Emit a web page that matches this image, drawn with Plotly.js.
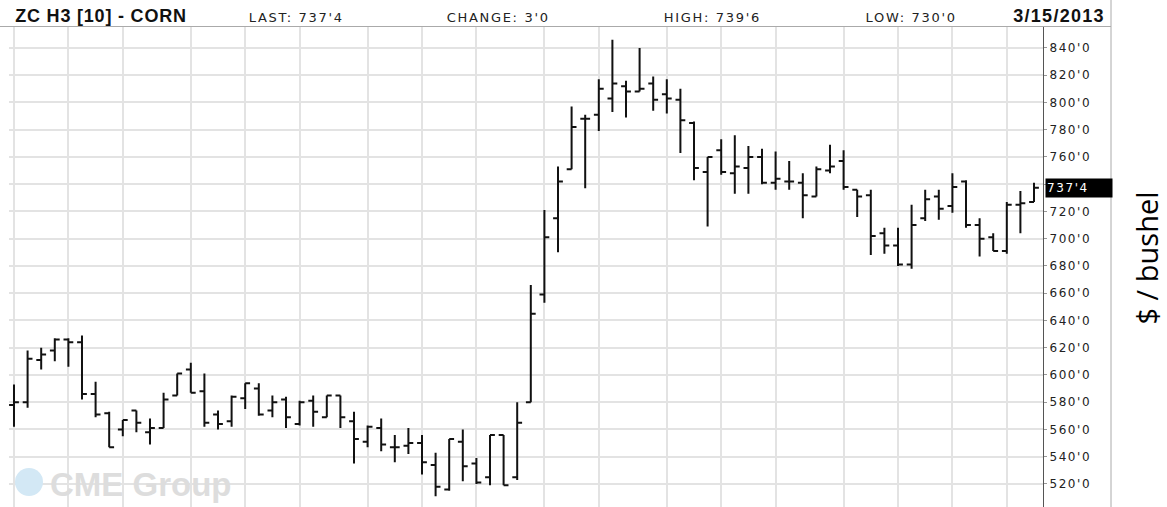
<!DOCTYPE html>
<html><head><meta charset="utf-8">
<script src="https://cdn.plot.ly/plotly-3.0.1.min.js"></script>
<style>
html,body{margin:0;padding:0;background:#fff;overflow:hidden}
#chart{width:1167px;height:507px}
.ytick text{letter-spacing:1.6px}
g.annotation[data-index="0"] text{letter-spacing:0.8px}
g.annotation[data-index="1"] text,g.annotation[data-index="2"] text,g.annotation[data-index="3"] text,g.annotation[data-index="4"] text{letter-spacing:1.7px}
g.annotation[data-index="5"] text{letter-spacing:1.3px}
g.annotation[data-index="6"] text{letter-spacing:1.6px}
</style>
</head><body><div id="chart"></div>
<script>
// Weekly bars (Monday of each week), ZC H3 corn futures
const weeks = [
"2011-10-03","2011-10-10","2011-10-17","2011-10-24","2011-10-31","2011-11-07","2011-11-14","2011-11-21","2011-11-28","2011-12-05",
"2011-12-12","2011-12-19","2011-12-26","2012-01-02","2012-01-09","2012-01-16","2012-01-23","2012-01-30","2012-02-06","2012-02-13",
"2012-02-20","2012-02-27","2012-03-05","2012-03-12","2012-03-19","2012-03-26","2012-04-02","2012-04-09","2012-04-16","2012-04-23",
"2012-04-30","2012-05-07","2012-05-14","2012-05-21","2012-05-28","2012-06-04","2012-06-11","2012-06-18","2012-06-25","2012-07-02",
"2012-07-09","2012-07-16","2012-07-23","2012-07-30","2012-08-06","2012-08-13","2012-08-20","2012-08-27","2012-09-03","2012-09-10",
"2012-09-17","2012-09-24","2012-10-01","2012-10-08","2012-10-15","2012-10-22","2012-10-29","2012-11-05","2012-11-12","2012-11-19",
"2012-11-26","2012-12-03","2012-12-10","2012-12-17","2012-12-24","2012-12-31","2013-01-07","2013-01-14","2013-01-21","2013-01-28",
"2013-02-04","2013-02-11","2013-02-18","2013-02-25","2013-03-04","2013-03-11"];
const openPx = [578,580,611,618,626,624,586,572,560,574, 558,561,585,604,588,571,566,583,590,574,
  582,564,581,569,585,566,551,561,547,548, 550,534,516,551,535,525,556,525,580,659,
  715,751,788,791,803,812,808,814,806,802, 785,749,765,748,752,760,741,742,741,731,
  750,757,736,732,704,695,681,715,731,724, 742,710,701,691,725,727];
const highPx = [593,618,620,627,627,629,595,573,567,574, 568,587,601,609,601,574,585,594,594,585,
  584,581,585,585,585,573,563,568,556,561, 556,543,553,560,539,556,556,580,666,721,
  753,797,791,817,846,816,840,819,817,810, 786,760,773,776,768,766,764,757,748,753,
  769,765,736,736,708,708,725,736,736,748, 743,715,704,727,735,741];
const lowPx = [562,576,604,610,606,582,569,547,555,558, 549,561,585,587,562,560,562,575,570,569,
  561,563,562,569,561,535,547,544,536,542, 527,511,515,522,520,519,519,523,580,653,
  690,751,737,779,793,789,808,794,792,763, 743,709,747,733,733,740,736,736,715,731,
  748,736,716,688,689,680,678,713,714,719, 708,687,691,689,704,727];
const closePx = [580,612,615,626,624,586,571,547,567,565, 561,582,601,587,565,564,584,594,571,580,
  569,580,573,585,569,553,562,549,547,550, 536,518,553,533,521,556,519,565,645,701,
  742,782,788,810,814,808,810,802,803,787, 752,760,749,753,760,741,744,742,732,751,
  753,738,731,702,695,681,710,729,722,738, 710,700,691,725,726,737.5];
// Weeks holding the first trading day of each month (vertical grid)
const monthStartWeeks = ["2011-10-03","2011-10-31","2011-11-28","2012-01-02","2012-01-30","2012-02-27","2012-04-02","2012-04-30",
  "2012-05-28","2012-07-02","2012-07-30","2012-09-03","2012-10-01","2012-10-29","2012-12-03","2012-12-31","2013-01-28","2013-02-25"];
const priceTicks = [520,540,560,580,600,620,640,660,680,700,720,740,760,780,800,820,840];
// 740 is covered by the last-price marker in the original, so its label is blank
const priceTickText = ["520'0","540'0","560'0","580'0","600'0","620'0","640'0","660'0","680'0","700'0","720'0","","760'0","780'0","800'0","820'0","840'0"];
const titleText = "ZC H3 [10] - CORN";
const lastText = "LAST: 737'4";
const changeText = "CHANGE: 3'0";
const highText = "HIGH: 739'6";
const lowText = "LOW: 730'0";
const dateText = "3/15/2013";
const lastLabel = "737'4";
const lastValue = 737.5;
const unitText = "$ / bushel";
const watermarkText = "CME Group";

// geometry helpers (pixel -> paper)
const W = 1167, H = 507, ML = 9, MR = 124, MT = 27, MB = 0;
const PW = W - ML - MR, PH = H - MT - MB;
const px = x => (x - ML) / PW;
const py = y => (H - MB - y) / PH;

const DAY = 86400000;
const fmt = ms => new Date(ms).toISOString().replace('T', ' ').replace('Z', '');
const t0 = Date.parse(weeks[0]), t1 = Date.parse(weeks[weeks.length - 1]);
const xRange = [fmt(t0 - 2.57 * DAY), fmt(t1 + 4.63 * DAY)];

const trace = {
  type: 'ohlc', x: weeks, open: openPx, high: highPx, low: lowPx, close: closePx,
  increasing: {line: {color: '#111', width: 2}},
  decreasing: {line: {color: '#111', width: 2}},
  tickwidth: 0.36, hoverinfo: 'skip', showlegend: false
};

const hdrFont = {family: 'DejaVu Sans, Verdana, sans-serif', size: 13, color: '#222'};
const boldFont = {family: 'Liberation Sans, Arial, sans-serif', size: 18, color: '#111'};
const hdrY = py(17.5);
const annotations = [
  {text: '<b>' + titleText + '</b>', x: px(20), y: py(15.5), xanchor: 'left', font: boldFont},
  {text: lastText, x: px(296), y: hdrY, xanchor: 'center', font: hdrFont},
  {text: changeText, x: px(498), y: hdrY, xanchor: 'center', font: hdrFont},
  {text: highText, x: px(712), y: hdrY, xanchor: 'center', font: hdrFont},
  {text: lowText, x: px(911), y: hdrY, xanchor: 'center', font: hdrFont},
  {text: '<b>' + dateText + '</b>', x: px(1101), y: py(15.5), xanchor: 'right', font: boldFont},
  {text: lastLabel, xref: 'paper', yref: 'y', x: px(1045), y: lastValue, xanchor: 'left', yanchor: 'middle',
   bgcolor: '#000', width: 64, height: 16, align: 'left', borderpad: 1,
   font: {family: 'DejaVu Sans, Verdana, sans-serif', size: 12, color: '#fff'}},
  {text: unitText, x: px(1146), y: py(258.5), xanchor: 'center', yanchor: 'middle', textangle: -90,
   font: {family: 'Open Sans, Noto Sans, sans-serif', size: 29, color: '#000'}},
  {text: '<b>' + watermarkText + '</b>', x: px(48), y: py(484), xanchor: 'left', yanchor: 'middle',
   font: {family: 'Liberation Sans, Arial, sans-serif', size: 33, color: '#dddddd'}}
].map(a => Object.assign({xref: 'paper', yref: 'paper', showarrow: false, yanchor: 'middle'}, a));

const shapes = [
  {type: 'line', xref: 'paper', yref: 'paper', x0: px(0), x1: px(1111), y0: py(26.5), y1: py(26.5), line: {color: '#aaaaaa', width: 1}},
  {type: 'line', xref: 'paper', yref: 'paper', x0: px(1111), x1: px(1111), y0: py(0), y1: py(507), line: {color: '#aaaaaa', width: 1}},
  {type: 'circle', xref: 'paper', yref: 'paper', x0: px(15), x1: px(43), y0: py(468), y1: py(496), fillcolor: '#d3e8f5', line: {width: 0}, layer: 'above'}
];

const layout = {
  width: W, height: H, margin: {l: ML, r: MR, t: MT, b: MB, pad: 0},
  paper_bgcolor: '#fff', plot_bgcolor: '#fff', showlegend: false, dragmode: false,
  xaxis: {type: 'date', range: xRange, tickmode: 'array', tickvals: monthStartWeeks, showticklabels: false,
    showgrid: true, gridcolor: '#e3e3e3', gridwidth: 2, zeroline: false, showline: false, ticks: '',
    rangeslider: {visible: false}, fixedrange: true},
  yaxis: {side: 'right', range: [503.1, 855.4], tickmode: 'array', tickvals: priceTicks, ticktext: priceTickText,
    showgrid: true, gridcolor: '#e3e3e3', gridwidth: 2, zeroline: false, showline: true, linecolor: '#555', linewidth: 1,
    ticks: 'outside', ticklen: 3, tickcolor: '#999',
    tickfont: {family: 'DejaVu Sans, Verdana, sans-serif', size: 12, color: '#222'}, fixedrange: true},
  annotations: annotations, shapes: shapes
};

Plotly.newPlot('chart', [trace], layout, {staticPlot: true, displayModeBar: false});
</script></body></html>
